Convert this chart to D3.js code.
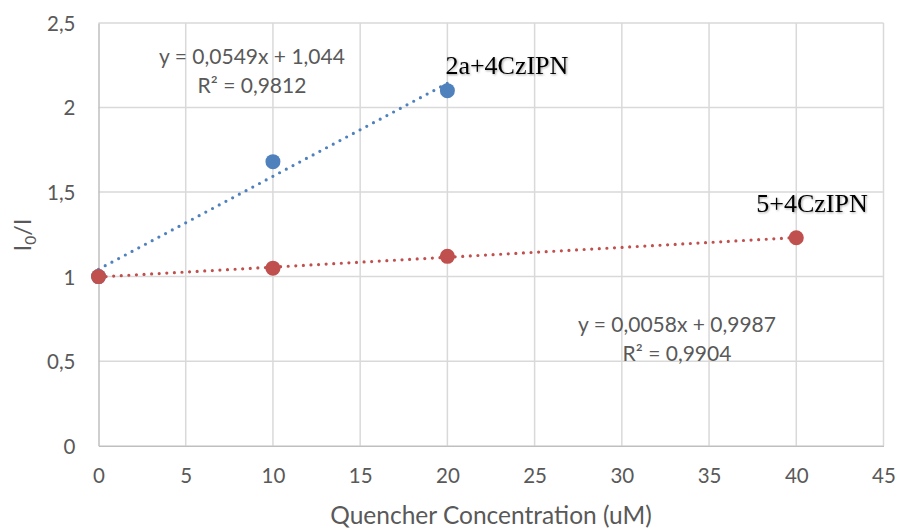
<!DOCTYPE html>
<html>
<head>
<meta charset="utf-8">
<script src="https://cdn.jsdelivr.net/npm/d3@7"></script>
<style>
  html, body { margin: 0; padding: 0; background: #fff; }
  svg { display: block; }
  .tick-label { font-family: Lato, "Open Sans", sans-serif; fill: #595959; }
  .eq { font-family: Lato, "Open Sans", sans-serif; fill: #595959; }
  .series-label { font-family: "Liberation Serif", "Times New Roman", serif; fill: #000; }
</style>
</head>
<body>
<svg id="chart" width="898" height="528"></svg>
<script>
// Quencher concentration (uM) and I0/I ratio for each system
const xValues2a = [0, 10, 20];
const yValues2a = [1.0, 1.68, 2.10];
const xValues5 = [0, 10, 20, 40];
const yValues5 = [1.0, 1.05, 1.12, 1.23];

const xTicks = [0, 5, 10, 15, 20, 25, 30, 35, 40, 45];
const yTicks = [0, 0.5, 1, 1.5, 2, 2.5];

const seriesNames = ["2a+4CzIPN", "5+4CzIPN"];
const eqLines2a = ["y = 0,0549x + 1,044", "R² = 0,9812"];
const eqLines5 = ["y = 0,0058x + 0,9987", "R² = 0,9904"];
const xTitle = "Quencher Concentration (uM)";

const blue = "#4F81BD";
const red = "#C0504D";

const svg = d3.select("#chart");
const plotLeft = 98.5, plotRight = 883.5, plotTop = 23, plotBottom = 445.7;

const x = d3.scaleLinear().domain([0, 45]).range([plotLeft, plotRight]);
const y = d3.scaleLinear().domain([0, 2.5]).range([plotBottom, plotTop]);

// gridlines
const grid = svg.append("g");
grid.selectAll("line.v").data(xTicks.slice(1)).join("line")
  .attr("x1", d => x(d)).attr("x2", d => x(d))
  .attr("y1", plotTop).attr("y2", plotBottom)
  .attr("stroke", "#d9d9d9").attr("stroke-width", 1.5);
grid.selectAll("line.h").data(yTicks.slice(1)).join("line")
  .attr("x1", plotLeft).attr("x2", plotRight)
  .attr("y1", d => y(d)).attr("y2", d => y(d))
  .attr("stroke", "#d9d9d9").attr("stroke-width", 1.5);

// axes
const xAxis = d3.axisBottom(x).tickValues(xTicks).tickSize(0).tickPadding(23)
  .tickFormat(d => String(d));
const gx = svg.append("g").attr("transform", `translate(0,${plotBottom})`).call(xAxis);
gx.select(".domain").attr("stroke", "#bfbfbf").attr("stroke-width", 1.5);
gx.selectAll("text").attr("class", "tick-label").attr("font-size", 20.5).attr("dy", "0.71em");

const yAxis = d3.axisLeft(y).tickValues(yTicks).tickSize(0).tickPadding(23)
  .tickFormat(d => String(d).replace(".", ","));
const gy = svg.append("g").attr("transform", `translate(${plotLeft},0)`).call(yAxis);
gy.select(".domain").attr("stroke", "#bfbfbf").attr("stroke-width", 1.5);
gy.selectAll("text").attr("class", "tick-label").attr("font-size", 20.5).attr("dy", "0.36em");

// least-squares linear fit
function fit(xs, ys) {
  const n = xs.length;
  const mx = d3.mean(xs), my = d3.mean(ys);
  let sxy = 0, sxx = 0;
  for (let i = 0; i < n; i++) { sxy += (xs[i] - mx) * (ys[i] - my); sxx += (xs[i] - mx) ** 2; }
  const m = sxy / sxx;
  return { m, b: my - m * mx };
}

function trend(xs, ys, color) {
  const f = fit(xs, ys);
  const x0 = d3.min(xs), x1 = d3.max(xs);
  svg.append("line")
    .attr("x1", x(x0)).attr("y1", y(f.m * x0 + f.b))
    .attr("x2", x(x1)).attr("y2", y(f.m * x1 + f.b))
    .attr("stroke", color).attr("stroke-width", 3.2)
    .attr("stroke-linecap", "round")
    .attr("stroke-dasharray", "0 7.6");
}

function points(xs, ys, color) {
  svg.append("g").selectAll("circle").data(xs.map((d, i) => [d, ys[i]])).join("circle")
    .attr("cx", d => x(d[0])).attr("cy", d => y(d[1]))
    .attr("r", 7.5).attr("fill", color);
}

trend(xValues2a, yValues2a, blue);
trend(xValues5, yValues5, red);
points(xValues2a, yValues2a, blue);
points(xValues5, yValues5, red);

// trendline equations
function eq(lines, cx, y0) {
  const t = svg.append("text").attr("class", "eq").attr("font-size", 21)
    .attr("text-anchor", "middle");
  lines.forEach((l, i) => t.append("tspan").attr("x", cx).attr("y", y0 + i * 28.5).text(l));
}
eq(eqLines2a, 252, 64);
eq(eqLines5, 677, 332);

// series labels
const defs = svg.append("defs");
const sh = defs.append("filter").attr("id", "soft").attr("x", "-10%").attr("y", "-20%")
  .attr("width", "130%").attr("height", "150%");
sh.append("feDropShadow").attr("dx", 1).attr("dy", 1).attr("stdDeviation", 1)
  .attr("flood-color", "#000").attr("flood-opacity", 0.35);

svg.append("text").attr("class", "series-label").attr("font-size", 26)
  .attr("x", x(20) - 2).attr("y", 74).attr("filter", "url(#soft)").text(seriesNames[0]);
svg.append("text").attr("class", "series-label").attr("font-size", 26)
  .attr("x", x(40) - 40).attr("y", 212).attr("filter", "url(#soft)").text(seriesNames[1]);

// axis titles
svg.append("text").attr("class", "tick-label").attr("font-size", 24.5)
  .attr("text-anchor", "middle").attr("x", 491).attr("y", 524).text(xTitle);

const yt = svg.append("text").attr("class", "tick-label").attr("font-size", 23.5)
  .attr("text-anchor", "middle")
  .attr("transform", "translate(31,235) rotate(-90)");
yt.append("tspan").text("I");
yt.append("tspan").attr("font-size", 15.5).attr("dy", 5).text("0");
yt.append("tspan").attr("dy", -5).text("/I");
</script>
</body>
</html>
